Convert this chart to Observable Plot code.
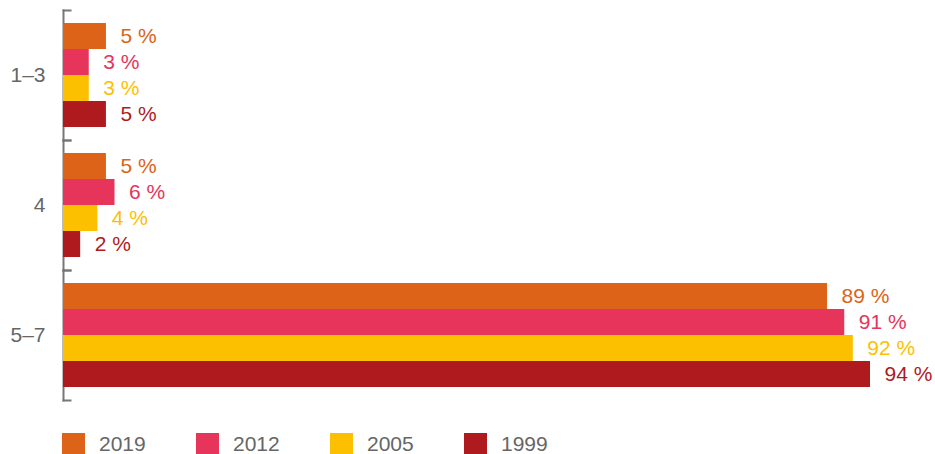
<!DOCTYPE html>
<html>
<head>
<meta charset="utf-8">
<script src="https://cdn.jsdelivr.net/npm/d3@7"></script>
<script src="https://cdn.jsdelivr.net/npm/@observablehq/plot@0.6"></script>
<style>
  body { margin: 0; background: #fff; font-family: "Liberation Sans", Arial, sans-serif; }
  #legend { display: flex; margin-top: 12px; margin-left: 62px; }
  .item { display: flex; align-items: center; width: 134px; font-size: 21px; color: #666; }
  .sw { width: 23px; height: 22px; margin-right: 14px; }
</style>
</head>
<body>
<div id="chart"></div>
<div id="legend"></div>
<script>
const groups = ["1–3", "4", "5–7"];
const years = ["2019", "2012", "2005", "1999"];
const v2019 = [5, 5, 89];
const v2012 = [3, 6, 91];
const v2005 = [3, 4, 92];
const v1999 = [5, 2, 94];
const colors = ["#DC6317", "#E6345A", "#FDC000", "#AF1A1E"];

const series = [v2019, v2012, v2005, v1999];
const data = groups.flatMap((g, i) => years.map((y, j) => ({group: g, year: y, value: series[j][i]})));

const axisColor = "#777";
const chart = Plot.plot({
  width: 935,
  height: 420,
  marginTop: 10,
  marginBottom: 20,
  marginLeft: 63,
  marginRight: 65,
  style: {fontFamily: "'Liberation Sans', Arial, sans-serif", fontSize: "21px", color: "#666", background: "#fff"},
  x: {domain: [0, 94], axis: null},
  y: {domain: years, axis: null, paddingInner: 0, paddingOuter: 0.45},
  fy: {domain: groups, padding: 0, label: null, axis: "left", tickSize: 0, tickPadding: 18},
  color: {domain: years, range: colors},
  marks: [
    Plot.frame({anchor: "left", stroke: axisColor, strokeWidth: 2}),
    Plot.frame({anchor: "top", stroke: axisColor, strokeWidth: 2, insetRight: 800}),
    Plot.frame({anchor: "bottom", stroke: axisColor, strokeWidth: 2, insetRight: 800}),
    Plot.barX(data, {fy: "group", y: "year", x: "value", fill: "year"}),
    Plot.text(data, {fy: "group", y: "year", x: "value", text: d => `${d.value} %`, fill: "year",
      textAnchor: "start", dx: 14, fontSize: 21})
  ]
});
document.getElementById("chart").appendChild(chart);

const legend = document.getElementById("legend");
years.forEach((y, i) => {
  const it = document.createElement("div");
  it.className = "item";
  it.innerHTML = `<span class="sw" style="background:${colors[i]}"></span><span>${y}</span>`;
  legend.appendChild(it);
});
</script>
</body>
</html>
